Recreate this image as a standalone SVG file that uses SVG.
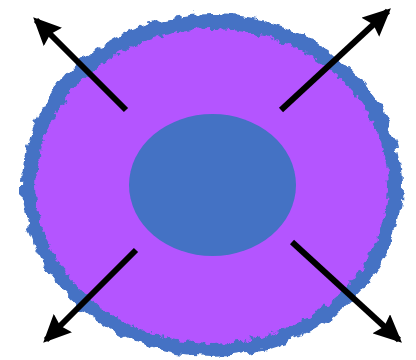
<svg xmlns="http://www.w3.org/2000/svg" width="416" height="360" viewBox="0 0 416 360">
  <style>
    .arrow { stroke: #000; stroke-width: 6; fill: none; marker-end: url(#head); }
  </style>
  <defs>
    <marker id="head" viewBox="0 0 28 26" refX="24" refY="13" markerWidth="28" markerHeight="26" orient="auto" markerUnits="userSpaceOnUse">
      <path d="M0,0 L28,13 L0,26 L4,13 Z" fill="#000"/>
    </marker>
    <filter id="rough" x="-10%" y="-10%" width="120%" height="120%">
      <feTurbulence type="fractalNoise" baseFrequency="0.08" numOctaves="3" seed="4" result="n"/>
      <feDisplacementMap in="SourceGraphic" in2="n" scale="11" xChannelSelector="R" yChannelSelector="G"/>
    </filter>
    <filter id="rough2" x="-10%" y="-10%" width="120%" height="120%">
      <feTurbulence type="fractalNoise" baseFrequency="0.15" numOctaves="3" seed="9" result="n"/>
      <feDisplacementMap in="SourceGraphic" in2="n" scale="10" xChannelSelector="R" yChannelSelector="G"/>
    </filter>
  </defs>
  <rect width="416" height="360" fill="#fff"/>
  <g id="outer">
    <ellipse cx="212" cy="185" rx="190" ry="171" fill="#4472C4" filter="url(#rough)"/>
    <ellipse cx="212" cy="186" rx="176" ry="157" fill="#B455FF" filter="url(#rough2)"/>
  </g>
  <g id="core">
    <ellipse cx="212.5" cy="185" rx="83.5" ry="71" fill="#4472C4"/>
  </g>
  <g id="connectors">
    <line class="arrow" x1="126" y1="110" x2="36" y2="20"/>
    <line class="arrow" x1="281" y1="110" x2="388" y2="11"/>
    <line class="arrow" x1="136" y1="250" x2="46" y2="340"/>
    <line class="arrow" x1="292" y1="242" x2="399" y2="340"/>
  </g>
</svg>
